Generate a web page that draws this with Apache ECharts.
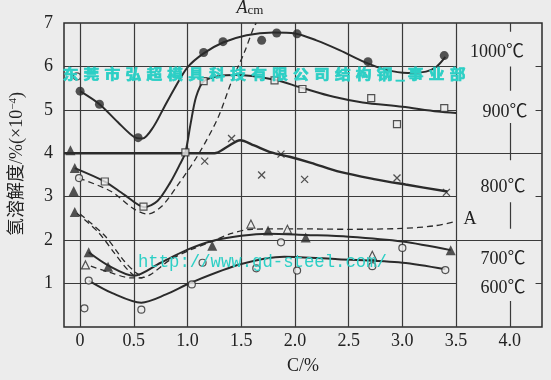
<!DOCTYPE html>
<html><head><meta charset="utf-8">
<script src="https://cdn.jsdelivr.net/npm/echarts@6/dist/echarts.min.js"></script>
<style>html,body{margin:0;padding:0;background:#ececec}#c{width:551px;height:380px}</style>
</head><body><div id="c"></div>
<script>
// ---- axis / text data ----
const xTickValues = [0, 0.5, 1.0, 1.5, 2.0, 2.5, 3.0, 3.5, 4.0];
const yTickValues = [1, 2, 3, 4, 5, 6, 7];
const xGridValues = [0, 0.5, 1.0, 1.5, 2.0, 2.5, 3.0, 3.5];
const yGridShort = [1, 3, 5, 6];
const yGridFull = [2, 4];
const xAxisTitle = 'C/%';
const yAxisTitle = ['氢溶解度/%(×10', '−4', ')'];
const curveLabels = ['1000℃', '900℃', '800℃', 'A', '700℃', '600℃'];
const acmLabel = ['A', 'cm'];
const watermarkCN = '东莞市弘超模具科技有限公司结构钢_事业部';
const watermarkURL = 'http://www.gd-steel.com/';

// ---- curves [C%, solubility] ----
const line1000 = [[0,5.43],[0.18,5.13],[0.35,4.72],[0.5,4.38],[0.58,4.34],[0.68,4.6],[0.78,5.05],[0.88,5.5],[1.0,5.98],[1.15,6.3],[1.33,6.55],[1.55,6.72],[1.8,6.78],[2.0,6.76],[2.2,6.6],[2.42,6.37],[2.65,6.1],[2.85,5.92],[3.05,5.85],[3.22,5.88],[3.32,6.0],[3.4,6.22]];
const line900 = [[-0.05,3.66],[0.23,3.35],[0.41,3.05],[0.6,2.76],[0.72,2.9],[0.84,3.33],[0.93,3.75],[0.98,4.02],[1.03,4.7],[1.08,5.3],[1.15,5.66],[1.3,5.78],[1.44,5.8],[1.8,5.7],[2.05,5.52],[2.36,5.3],[2.63,5.17],[3.0,5.07],[3.33,4.96],[3.5,4.93]];
const line800 = [[-0.15,4.0],[1.25,4.0],[1.37,4.15],[1.49,4.3],[1.62,4.18],[1.78,4.02],[1.95,3.92],[2.15,3.78],[2.42,3.57],[2.75,3.4],[3.03,3.28],[3.42,3.12]];
const line700 = [[0.08,1.72],[0.26,1.42],[0.5,1.18],[0.75,1.48],[1.0,1.78],[1.23,1.98],[1.5,2.1],[1.75,2.15],[2.1,2.12],[2.5,2.08],[3.0,1.97],[3.45,1.77]];
const line600 = [[0.08,1.07],[0.3,0.78],[0.57,0.56],[0.8,0.75],[1.04,1.03],[1.5,1.45],[1.9,1.62],[2.4,1.56],[3.0,1.48],[3.4,1.33]];
const lineAcm = [[-0.01,3.43],[0.29,3.12],[0.5,2.72],[0.63,2.6],[0.76,2.78],[0.91,3.27],[1.1,3.97],[1.28,4.8],[1.41,5.65],[1.53,6.33],[1.62,6.92],[1.64,7.0]];
const lineA = [[-0.03,2.62],[0.17,2.18],[0.32,1.7],[0.45,1.3],[0.55,1.13],[0.65,1.2],[0.84,1.55],[1.05,1.8],[1.23,1.97],[1.4,2.15],[1.6,2.25],[2.0,2.26],[2.5,2.25],[3.0,2.27],[3.3,2.33],[3.5,2.43]];
const lineA2 = [[0.0,2.6],[0.23,2.1],[0.41,1.52],[0.52,1.25],[0.6,1.14]];
const lineA3 = [[0.1,1.4],[0.26,1.27],[0.48,1.13],[0.58,1.13]];

// ---- measured points ----
const ptsFilledCircle = [[0,5.43],[0.18,5.13],[0.54,4.36],[1.15,6.32],[1.33,6.57],[1.69,6.6],[1.83,6.77],[2.02,6.75],[2.68,6.11],[3.39,6.25]];
const ptsOpenSquare = [[0.23,3.35],[0.59,2.77],[0.98,4.02],[1.15,5.66],[1.81,5.68],[2.07,5.48],[2.71,5.27],[2.95,4.67],[3.39,5.04]];
const ptsCross = [[1.16,3.82],[1.41,4.34],[1.69,3.5],[1.87,3.98],[2.09,3.4],[2.95,3.43],[3.41,3.1]];
const ptsFilledTriangle = [[-0.09,4.07],[-0.05,3.66],[-0.06,3.13],[-0.05,2.65],[0.08,1.72],[0.26,1.39],[1.23,1.87],[1.75,2.22],[2.1,2.06],[3.45,1.77]];
const ptsOpenTriangle = [[0.05,1.43],[1.59,2.37],[1.93,2.25],[2.72,1.65]];
const ptsOpenCircle = [[-0.03,5.77],[-0.01,3.43],[0.04,0.43],[0.08,1.07],[0.57,0.4],[1.04,0.98],[1.14,1.48],[1.64,1.35],[1.87,1.95],[2.02,1.3],[2.72,1.4],[3.0,1.82],[3.4,1.31]];

// ---- styling / layout ----
const BG = '#ececec', INK = '#2b2b2b', CYAN = '#2ccfc5';
const SERIF = '"Liberation Serif","Noto Sans CJK SC",serif';
const X_MIN = -0.15, X_MAX = 4.3, Y_MIN = 0, Y_MAX = 7;

const gridSegs = [];
xGridValues.forEach(x => gridSegs.push({coords: [[x, Y_MIN], [x, Y_MAX]]}));
yGridShort.forEach(y => gridSegs.push({coords: [[X_MIN, y], [3.5, y]]}));
yGridFull.forEach(y => gridSegs.push({coords: [[X_MIN, y], [X_MAX, y]]}));
yGridShort.forEach(y => gridSegs.push({coords: [[4.24, y], [X_MAX, y]]}));
[[6.8,7],[5.44,6.0],[3.84,4.7],[2.26,2.87],[0,0.6]].forEach(([a, b]) => gridSegs.push({coords: [[4, a], [4, b]]}));

function curve(name, data, dashed, width) {
  return {name, type: 'line', data, showSymbol: false, smooth: 0.3, z: 3, silent: true,
    lineStyle: {color: INK, width: width || 2, type: dashed ? [6, 4] : 'solid'}};
}
function marks(name, data, symbol, size, filled, extra) {
  return Object.assign({name, type: 'scatter', data, symbol, symbolSize: size, z: 5, silent: true,
    itemStyle: filled ? {color: INK} : {color: BG, borderColor: INK, borderWidth: 1.2}}, extra || {});
}

const chart = echarts.init(document.getElementById('c'), null, {renderer: 'canvas'});
const labelStyle = {fontSize: 18, fontFamily: SERIF, fill: '#222', align: 'center', verticalAlign: 'middle'};
const labelPos = [[497, 52], [505, 112], [503, 187], [470, 219], [503, 259], [503, 288]];
const cjkTok = {align: 'center', fontSize: 14, fontWeight: 'bold', fontFamily: '"Noto Sans CJK SC"', fill: CYAN, stroke: CYAN, lineWidth: 0.7};

chart.setOption({
  backgroundColor: BG,
  animation: false,
  grid: {left: 57, right: 9, top: 23, bottom: 47, show: true, borderColor: INK, borderWidth: 1.5},
  xAxis: {type: 'value', min: X_MIN, max: X_MAX,
    axisLine: {show: false}, axisTick: {show: false}, splitLine: {show: false},
    axisLabel: {customValues: xTickValues, formatter: v => v === 0 ? '0' : v.toFixed(1),
      fontSize: 18, fontFamily: SERIF, color: '#222', margin: 5},
    name: xAxisTitle, nameLocation: 'middle', nameGap: 30,
    nameTextStyle: {fontSize: 18, fontFamily: SERIF, color: '#222'}},
  yAxis: {type: 'value', min: Y_MIN, max: Y_MAX,
    axisLine: {show: false}, axisTick: {show: false}, splitLine: {show: false},
    axisLabel: {customValues: yTickValues, fontSize: 18, fontFamily: SERIF, color: '#222', margin: 11},
    name: '{a|' + yAxisTitle[0] + '}{s|' + yAxisTitle[1] + '}{a|' + yAxisTitle[2] + '}',
    nameLocation: 'middle', nameRotate: 90, nameGap: 38,
    nameTextStyle: {padding: [0, 0, 0, 22], rich: {
      a: {fontSize: 18, fontFamily: SERIF, color: '#222'},
      s: {fontSize: 11, fontFamily: SERIF, color: '#222', verticalAlign: 'top'}}}},
  series: [
    {type: 'lines', coordinateSystem: 'cartesian2d', data: gridSegs, silent: true, z: 1,
      lineStyle: {color: '#3a3a3a', width: 1.2, opacity: 1}},
    curve('1000℃', line1000),
    curve('900℃', line900),
    curve('800℃', line800, false, 2.4),
    curve('700℃', line700),
    curve('600℃', line600),
    curve('Acm', lineAcm, true, 1.3),
    curve('A', lineA, true, 1.3),
    curve('A-2', lineA2, true, 1.3),
    curve('A-3', lineA3, true, 1.3),
    marks('filled circle', ptsFilledCircle, 'circle', 9, true),
    marks('open square', ptsOpenSquare, 'rect', 7, false),
    marks('cross', ptsCross, 'path://M0,0L10,10M10,0L0,10', 7, false,
      {itemStyle: {color: 'rgba(0,0,0,0)', borderColor: INK, borderWidth: 1.3}}),
    marks('filled triangle', ptsFilledTriangle, 'triangle', 10, true),
    marks('open triangle', ptsOpenTriangle, 'triangle', 8, false),
    marks('open circle', ptsOpenCircle, 'circle', 7, false)
  ],
  graphic: [
    ...curveLabels.map((t, i) => ({type: 'text', x: labelPos[i][0], y: labelPos[i][1], z: 100, silent: true,
      style: Object.assign({text: t}, labelStyle)})),
    {type: 'text', x: 250, y: 8, z: 100, silent: true,
      style: {text: '{a|' + acmLabel[0] + '}{s|' + acmLabel[1] + '}', align: 'center', verticalAlign: 'middle',
        rich: {a: {fontSize: 18, fontStyle: 'italic', fontFamily: SERIF, fill: '#222'},
               s: {fontSize: 13, fontFamily: SERIF, fill: '#222', verticalAlign: 'bottom'}}}},
    {type: 'text', x: 60, y: 74, scaleX: 1.12, z: 200, silent: true,
      style: {text: watermarkCN.split('').map(ch => ch === '_' ? '{u|_}' : '{c|' + ch + '}').join(''),
        verticalAlign: 'middle', align: 'left',
        rich: {c: Object.assign({width: 18.7}, cjkTok), u: Object.assign({width: 9}, cjkTok)}}},
    {type: 'text', x: 138, y: 262, scaleY: 1.1, z: 200, silent: true,
      style: {text: watermarkURL, fontSize: 17.3, fontFamily: '"Liberation Mono",monospace', fill: CYAN,
        align: 'left', verticalAlign: 'middle'}}
  ]
});
</script></body></html>
